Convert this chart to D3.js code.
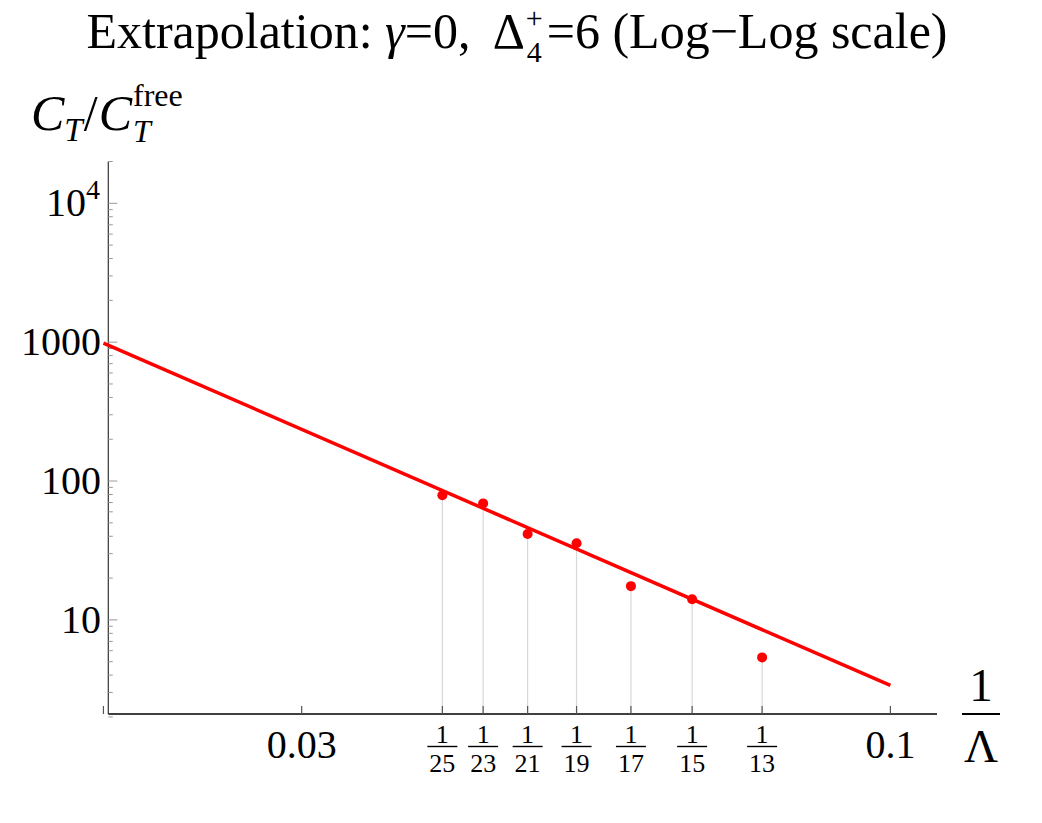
<!DOCTYPE html>
<html>
<head>
<meta charset="utf-8">
<script src="https://cdn.jsdelivr.net/npm/d3@7"></script>
<style>
  body { margin: 0; background: #fff; }
  text { font-family: "Liberation Serif", "DejaVu Serif", serif; fill: #000; white-space: pre; }
</style>
</head>
<body>
<div id="chart"></div>
<script>
// data
const lambdas = [25, 23, 21, 19, 17, 15, 13]          // x = 1/Lambda
const ctRatio = [78.9, 69.0, 41.5, 35.6, 17.5, 14.1, 5.37]
const fitX = [0.02, 0.1]                               // fitted line end points
const fitY = [985, 3.37]
const xPlainTicks = [0.03, 0.1]
const xEdgeTicks = [0.02]
const yMajor = [10, 100, 1000, 10000]
const yLabels = ["10", "100", "1000", "10^4"]

const width = 1042, height = 823

const svg = d3.select("#chart").append("svg")
    .attr("width", width)
    .attr("height", height)

// scales (log-log)
const x = d3.scaleLog().domain([0.0202, 0.11]).range([108.3, 937])
const y = d3.scaleLog().domain([2.1, 20000]).range([714, 161.5])

// rich text in one <text>: tspans placed one after another, "stack" runs share x
function rich(g, x0, y0, runs, anchor) {
    const t = g.append("text").attr("xml:space", "preserve")
    let cx = 0, stackW = 0
    runs.forEach(r => {
        cx += r.gap || 0
        const el = t.append("tspan")
            .attr("x", cx).attr("y", r.dy || 0)
            .style("font-size", r.size + "px")
            .style("font-style", r.italic ? "italic" : "normal")
            .text(r.text)
        const w = el.node().getComputedTextLength()
        if (r.stack) { stackW = Math.max(stackW, w) }
        else { cx += Math.max(w, stackW); stackW = 0 }
    })
    let shift = 0
    if (anchor === "middle") shift = -cx / 2
    if (anchor === "end") shift = -cx
    t.attr("transform", `translate(${x0 + shift},${y0})`)
    return t
}

// title
rich(svg, 517, 48, [
    {text: "Extrapolation: ", size: 50},
    {text: "γ", size: 50, italic: true},
    {text: "=0,  Δ", size: 50},
    {text: "+", size: 30, dy: -20, stack: true, gap: 1},
    {text: "4", size: 30, dy: 14, gap: 1},
    {text: "=6 (Log\u2212Log scale)", size: 50, gap: 3}
], "middle")

// y axis label
rich(svg, 31, 130, [
    {text: "C", size: 50, italic: true},
    {text: "T", size: 33, italic: true, dy: 11},
    {text: "/", size: 50, gap: 1},
    {text: "C", size: 50, italic: true, gap: 1},
    {text: "free", size: 32, dy: -24, stack: true, gap: 1},
    {text: "T", size: 32, italic: true, dy: 12}
])

// drop lines from points to the axis
const pts = lambdas.map((l, i) => ({x: 1 / l, y: ctRatio[i], l: l}))

svg.append("g").selectAll("line")
    .data(pts)
    .join("line")
    .attr("x1", d => x(d.x)).attr("x2", d => x(d.x))
    .attr("y1", d => y(d.y)).attr("y2", y.range()[0])
    .attr("stroke", "#d8d8d8")
    .attr("stroke-width", 1.2)

// axes lines
svg.append("line")
    .attr("x1", x.range()[0]).attr("x2", x.range()[1])
    .attr("y1", y.range()[0]).attr("y2", y.range()[0])
    .attr("stroke", "#000").attr("stroke-width", 1.3)
svg.append("line")
    .attr("x1", x.range()[0]).attr("x2", x.range()[0])
    .attr("y1", y.range()[0]).attr("y2", y.range()[1])
    .attr("stroke", "#333").attr("stroke-width", 1.2)

// y ticks
const yMinor = []
for (let p = 0; p <= 4; p++) for (let m = 2; m <= 9; m++) {
    const v = m * Math.pow(10, p)
    if (v >= 2 && v <= 20000 && !yMajor.includes(v)) yMinor.push(v)
}
svg.append("g").selectAll("line")
    .data(yMinor)
    .join("line")
    .attr("x1", x.range()[0]).attr("x2", x.range()[0] + 4.5)
    .attr("y1", d => y(d)).attr("y2", d => y(d))
    .attr("stroke", "#999").attr("stroke-width", 1)
svg.append("g").selectAll("line")
    .data(yMajor)
    .join("line")
    .attr("x1", x.range()[0]).attr("x2", x.range()[0] + 9)
    .attr("y1", d => y(d)).attr("y2", d => y(d))
    .attr("stroke", "#999").attr("stroke-width", 1)

yMajor.forEach((v, i) => {
    const lab = yLabels[i]
    if (lab.includes("^")) {
        const [b, e] = lab.split("^")
        rich(svg, 100, y(v) + 13, [
            {text: b, size: 40},
            {text: e, size: 28, dy: -17}
        ], "end")
    } else {
        svg.append("text")
            .attr("x", 101).attr("y", y(v) + 13)
            .attr("text-anchor", "end")
            .style("font-size", "40px")
            .text(lab)
    }
})

// x ticks
const xTickAll = xEdgeTicks.concat(xPlainTicks, pts.map(d => d.x))
svg.append("g").selectAll("line")
    .data(xTickAll)
    .join("line")
    .attr("x1", d => x(d)).attr("x2", d => x(d))
    .attr("y1", y.range()[0]).attr("y2", y.range()[0] - 8)
    .attr("stroke", "#555").attr("stroke-width", 1.2)

svg.append("g").selectAll("text")
    .data(xPlainTicks)
    .join("text")
    .attr("x", d => x(d)).attr("y", 758)
    .attr("text-anchor", "middle")
    .style("font-size", "40px")
    .text(d => d)

const frac = svg.append("g").selectAll("g")
    .data(pts)
    .join("g")
    .attr("transform", d => `translate(${x(d.x)},0)`)
frac.append("text")
    .attr("y", 743).attr("text-anchor", "middle")
    .style("font-size", "26px")
    .text("1")
frac.append("line")
    .attr("x1", -15).attr("x2", 15)
    .attr("y1", 746.5).attr("y2", 746.5)
    .attr("stroke", "#000").attr("stroke-width", 1.4)
frac.append("text")
    .attr("y", 772).attr("text-anchor", "middle")
    .style("font-size", "26px")
    .text(d => d.l)

// x axis label 1/Lambda
svg.append("text")
    .attr("x", 981).attr("y", 701).attr("text-anchor", "middle")
    .style("font-size", "47px").text("1")
svg.append("line")
    .attr("x1", 962).attr("x2", 1000)
    .attr("y1", 714).attr("y2", 714)
    .attr("stroke", "#000").attr("stroke-width", 2)
svg.append("text")
    .attr("x", 981).attr("y", 762).attr("text-anchor", "middle")
    .style("font-size", "47px").text("Λ")

// fitted line
const line = d3.line().x(d => x(d[0])).y(d => y(d[1]))
svg.append("path")
    .datum(fitX.map((v, i) => [v, fitY[i]]))
    .attr("d", line)
    .attr("fill", "none")
    .attr("stroke", "#ff0000")
    .attr("stroke-width", 3.5)

// points
svg.append("g").selectAll("circle")
    .data(pts)
    .join("circle")
    .attr("cx", d => x(d.x))
    .attr("cy", d => y(d.y))
    .attr("r", 5)
    .attr("fill", "#ff0000")
</script>
</body>
</html>
